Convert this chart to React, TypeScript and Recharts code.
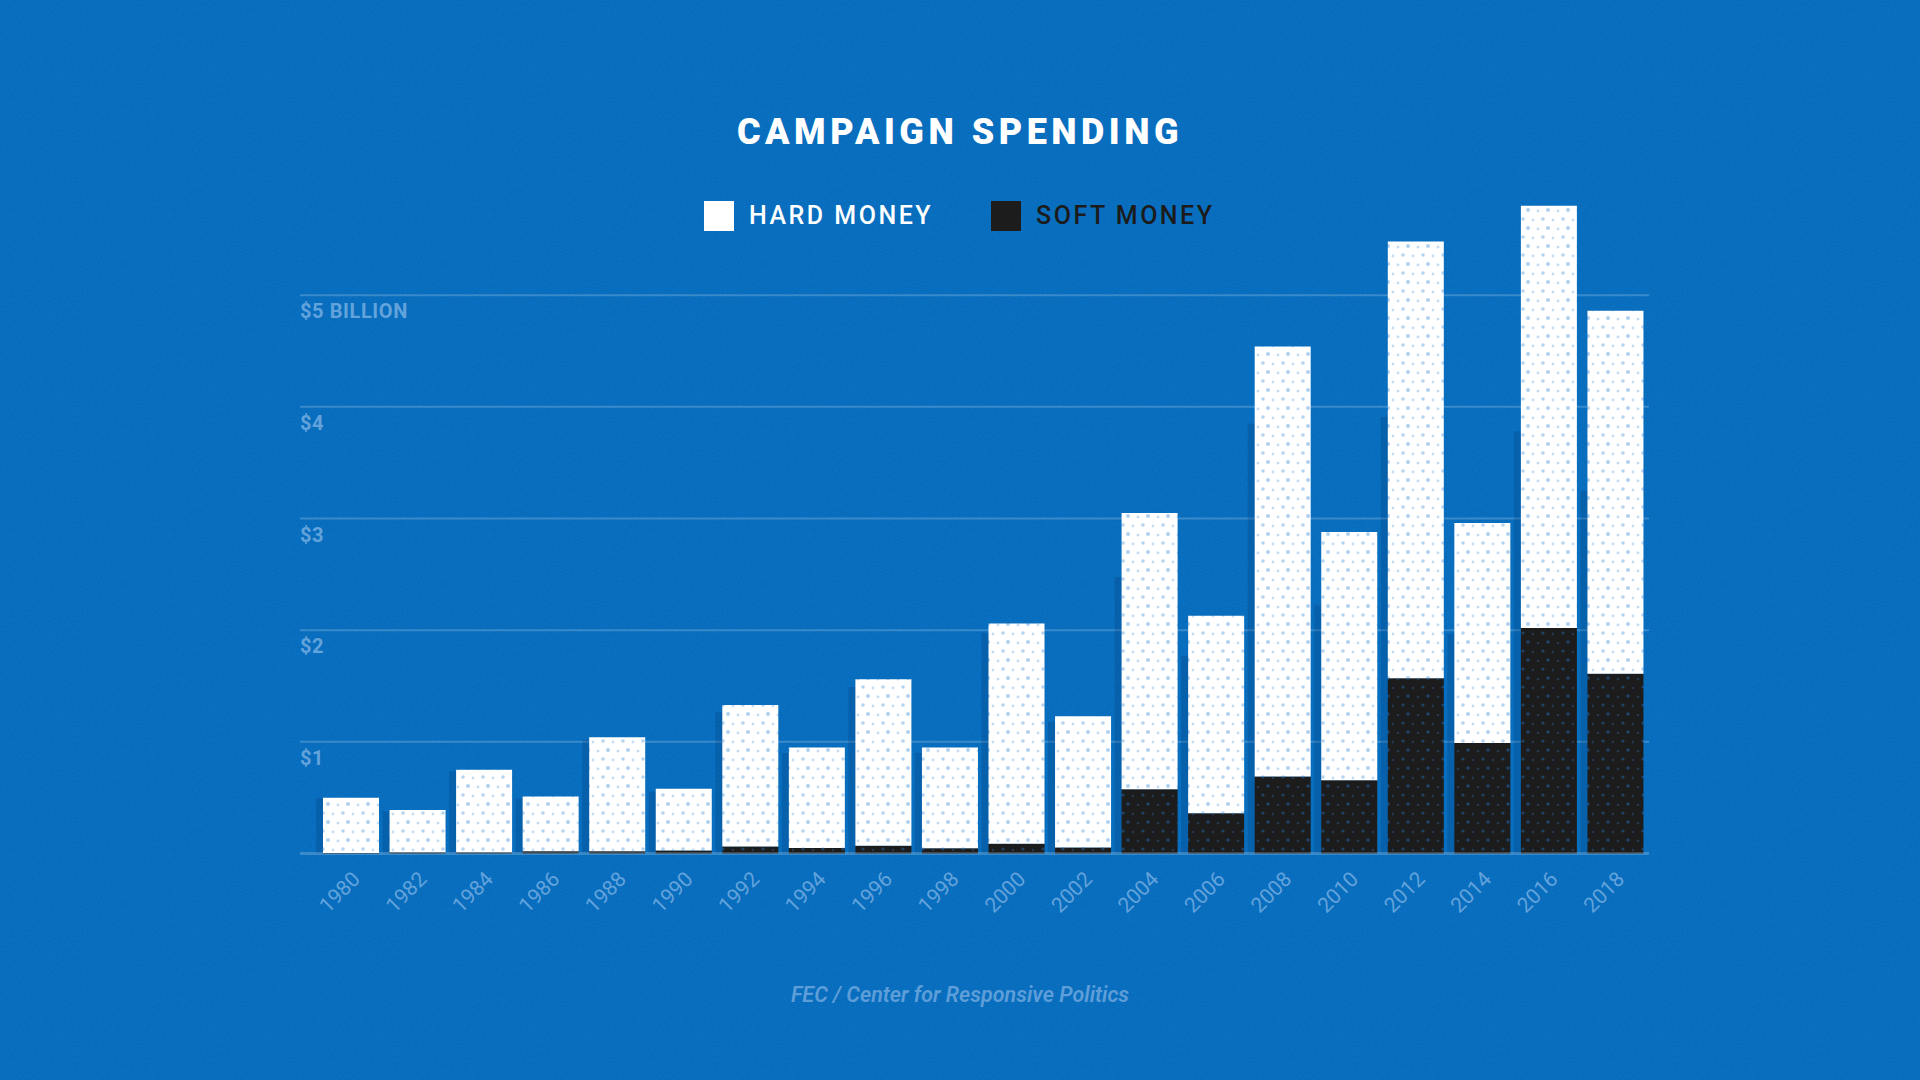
import React from 'react';
import { BarChart, Bar, XAxis, YAxis, CartesianGrid } from 'recharts';

// election cycles on the x axis
const years = [
  '1980', '1982', '1984', '1986', '1988', '1990', '1992', '1994', '1996', '1998',
  '2000', '2002', '2004', '2006', '2008', '2010', '2012', '2014', '2016', '2018',
];

// billions of dollars
const hardMoney = [
  0.495, 0.378, 0.738, 0.49, 1.02, 0.553, 1.267, 0.9, 1.491, 0.902,
  1.973, 1.176, 2.475, 1.77, 3.85, 2.225, 3.91, 1.97, 3.78, 3.25,
];
const softMoney = [
  0.005, 0.012, 0.012, 0.02, 0.02, 0.027, 0.063, 0.05, 0.069, 0.048,
  0.087, 0.054, 0.575, 0.36, 0.69, 0.655, 1.57, 0.99, 2.02, 1.61,
];

const yTicks = [1, 2, 3, 4, 5];
const yDomain = [0, 6];

const legendItems = [
  { label: 'HARD MONEY', color: '#ffffff', text: '#ffffff' },
  { label: 'SOFT MONEY', color: '#1c1c1c', text: '#1b1b1b' },
];

const BG = '#0a70c3';
const LABEL = '#63a3dc';
const PLOT_LEFT = 300;

const data = years.map((year, i) => ({
  year,
  hard: hardMoney[i],
  soft: softMoney[i],
}));

// darker copy of the hard money bar, pushed a bit to the left
const ShadowShape = (props: any) => {
  const { x, y, width, height } = props;
  if (!height || height <= 0) return null;
  return <rect x={x - 7} y={y} width={width} height={height} fill="#00306a" fillOpacity={0.22} />;
};

const YTick = ({ y, payload }: any) => {
  const v = payload.value;
  const label = v === 5 ? '$5 BILLION' : `$${v}`;
  return (
    <text
      x={PLOT_LEFT}
      y={y + 23}
      fill={LABEL}
      fontSize={20}
      fontWeight={700}
      letterSpacing={0.6}
      fontFamily="Roboto, sans-serif"
      textAnchor="start"
    >
      {label}
    </text>
  );
};

const XTick = ({ x, y, payload }: any) => {
  const ax = x + 10;
  const ay = y + 27;
  return (
    <text
      x={ax}
      y={ay}
      transform={`rotate(-45, ${ax}, ${ay})`}
      textAnchor="end"
      fill={LABEL}
      fontSize={21}
      fontFamily="Roboto, sans-serif"
    >
      {payload.value}
    </text>
  );
};

export default function App() {
  return (
    <div
      style={{
        position: 'absolute',
        left: 0,
        top: 0,
        width: 1920,
        height: 1080,
        background: BG,
        overflow: 'hidden',
        fontFamily: 'Roboto, sans-serif',
      }}
    >
      {/* grainy paper texture */}
      <svg width={1920} height={1080} style={{ position: 'absolute', left: 0, top: 0 }}>
        <filter id="grain">
          <feTurbulence type="fractalNoise" baseFrequency="0.8" numOctaves={2} seed={3} />
          <feColorMatrix
            type="matrix"
            values="0 0 0 0 0  0 0 0 0 0.1  0 0 0 0 0.25  0 0 0 -2.2 1.35"
          />
        </filter>
        <rect width={1920} height={1080} filter="url(#grain)" opacity={0.3} />
      </svg>

      <div
        style={{
          position: 'absolute',
          top: 112,
          left: 0,
          width: 1920,
          textAlign: 'center',
          color: '#fff',
          fontSize: 36,
          fontWeight: 900,
          letterSpacing: 4.5,
          lineHeight: '40px',
        }}
      >
        CAMPAIGN SPENDING
      </div>

      <div
        style={{
          position: 'absolute',
          top: 201,
          left: 704,
          display: 'flex',
          alignItems: 'center',
          height: 30,
        }}
      >
        {legendItems.map((item, i) => (
          <div key={item.label} style={{ display: 'flex', alignItems: 'center', marginLeft: i ? 58 : 0 }}>
            <div style={{ width: 30, height: 30, background: item.color }} />
            <span
              style={{
                marginLeft: 15,
                color: item.text,
                fontSize: 25,
                fontWeight: 500,
                letterSpacing: 2.5,
                lineHeight: '30px',
              }}
            >
              {item.label}
            </span>
          </div>
        ))}
      </div>

      <div style={{ position: 'absolute', left: 0, top: 0 }}>
        <BarChart
          width={1920}
          height={1080}
          data={data}
          margin={{ top: 183.5, right: 271, bottom: 196.5, left: PLOT_LEFT - 1 }}
        >
          <defs>
            <pattern id="dotsLight" width={20} height={18} patternUnits="userSpaceOnUse">
              <rect width={20} height={18} fill="#ffffff" />
              <circle cx={3} cy={3} r={1.8} fill="#b6d4f1" />
              <circle cx={13} cy={4} r={1.4} fill="#c6def5" />
              <circle cx={8} cy={12} r={2} fill="#b1d1f0" />
              <circle cx={18} cy={13} r={1.4} fill="#c4ddf5" />
            </pattern>
            <pattern id="dotsDark" width={20} height={18} patternUnits="userSpaceOnUse">
              <rect width={20} height={18} fill="#1c1c1c" />
              <circle cx={3} cy={3} r={1.6} fill="#1f4266" />
              <circle cx={13} cy={4} r={1.2} fill="#243850" />
              <circle cx={8} cy={12} r={1.8} fill="#1f4266" />
              <circle cx={18} cy={13} r={1.2} fill="#243850" />
            </pattern>
          </defs>
          <CartesianGrid
            vertical={false}
            horizontalValues={yTicks}
            stroke="#ffffff"
            strokeOpacity={0.2}
            strokeWidth={2}
          />
          <XAxis
            dataKey="year"
            height={30}
            padding={{ left: 18, right: 0 }}
            tickLine={false}
            tickSize={0}
            tickMargin={0}
            axisLine={{ stroke: '#ffffff', strokeOpacity: 0.2, strokeWidth: 3 }}
            tick={<XTick />}
            interval={0}
          />
          <XAxis xAxisId="shadow" dataKey="year" hide padding={{ left: 18, right: 0 }} />
          <YAxis
            width={1}
            domain={yDomain}
            ticks={yTicks}
            axisLine={false}
            tickLine={false}
            tick={<YTick />}
          />
          <Bar
            xAxisId="shadow"
            dataKey="hard"
            barSize={56}
            shape={ShadowShape}
            legendType="none"
            isAnimationActive={false}
          />
          <Bar dataKey="soft" stackId="money" barSize={56} fill="url(#dotsDark)" isAnimationActive={false} />
          <Bar dataKey="hard" stackId="money" barSize={56} fill="url(#dotsLight)" isAnimationActive={false} />
        </BarChart>
      </div>

      <div
        style={{
          position: 'absolute',
          top: 982,
          left: 0,
          width: 1920,
          textAlign: 'center',
          color: '#5d9ed9',
          fontSize: 21.5,
          fontWeight: 600,
          fontStyle: 'italic',
          lineHeight: '26px',
        }}
      >
        FEC / Center for Responsive Politics
      </div>
    </div>
  );
}
